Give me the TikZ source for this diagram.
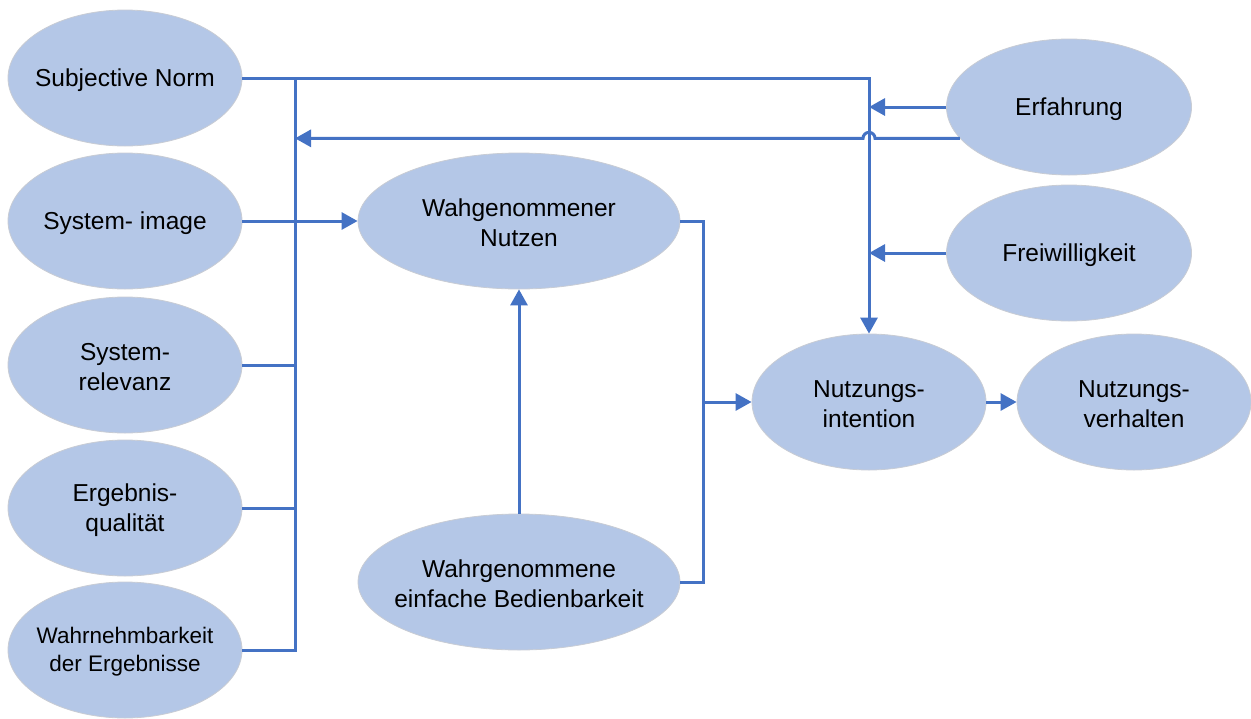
\documentclass[tikz,border=0pt]{standalone}
\usepackage{fontspec}
\setmainfont{Liberation Sans}
\usetikzlibrary{shapes.geometric,arrows.meta}
\definecolor{bubble}{HTML}{B4C7E7}
\definecolor{rim}{HTML}{C8CCD4}
\definecolor{wire}{HTML}{4472C4}
\tikzset{
  bub/.style={ellipse, fill=bubble, draw=rim, line width=0.8pt, inner sep=0pt,
    minimum width=234, minimum height=136},
  wide/.style={bub, minimum width=322},
  txt/.style={align=center, inner sep=0pt, yshift=-2pt, font=\fontsize{24.5}{30}\selectfont},
  small/.style={txt, font=\fontsize{22.5}{28}\selectfont},
  ln/.style={draw=wire, line width=3pt},
  arr/.style={-{Triangle[length=16pt,width=17pt]}}
}
\begin{document}
\begin{tikzpicture}[x=1pt,y=-1pt]
\useasboundingbox (0,0) rectangle (1251,718);

% left column of factors
\node[bub, label={[txt]center:Subjective Norm}] (sn) at (125,78) {};
\node[bub, label={[txt]center:System- image}] (si) at (125,221) {};
\node[bub, label={[txt]center:System-\\relevanz}] (sr) at (125,365) {};
\node[bub, label={[txt]center:Ergebnis-\\qualität}] (eq) at (125,508) {};
\node[bub, label={[small]center:Wahrnehmbarkeit\\der Ergebnisse}] (wb) at (125,650) {};

% central constructs
\node[wide, label={[txt]center:Wahgenommener\\Nutzen}] (wn) at (519,221) {};
\node[wide, label={[txt]center:Wahrgenommene\\einfache Bedienbarkeit}] (web) at (519,582) {};

% moderators and outcome
\node[bub, minimum width=245, label={[txt]center:Erfahrung}] (erf) at (1069,107) {};
\node[bub, minimum width=245, label={[txt]center:Freiwilligkeit}] (frw) at (1069,253) {};
\node[bub, label={[txt]center:Nutzungs-\\intention}] (intn) at (869,402) {};
\node[bub, label={[txt]center:Nutzungs-\\verhalten}] (nv) at (1134,402) {};

\coordinate (busx) at (295,0);
\coordinate (jx) at (703,0);

% collecting bus on the left
\draw[ln] (wb.east) -- (wb.east -| busx) -- (sn.east -| busx);
\draw[ln] (eq.east) -- (eq.east -| busx);
\draw[ln] (sr.east) -- (sr.east -| busx);
\draw[ln,arr] (si.east) -- (wn.west);

% subjective norm to intention
\draw[ln,arr] (sn.east) -- (sn.east -| intn.north) -- (intn.north);

% moderators
\draw[ln,arr] (erf.west) -- (erf.west -| intn.north);
\draw[ln,arr] (frw.west) -- (frw.west -| intn.north);
\draw[ln,arr] (erf.196) -- ([xshift=6pt]erf.196 -| intn.north)
  arc[start angle=0, end angle=-180, radius=6] -- (erf.196 -| busx);

% perceived usefulness and ease of use
\draw[ln,arr] (web.north) -- (wn.south);
\draw[ln] (wn.east) -- (wn.east -| jx) -- (web.east -| jx) -- (web.east);
\draw[ln,arr] (intn.west -| jx) -- (intn.west);
\draw[ln,arr] (intn.east) -- (nv.west);
\end{tikzpicture}
\end{document}
